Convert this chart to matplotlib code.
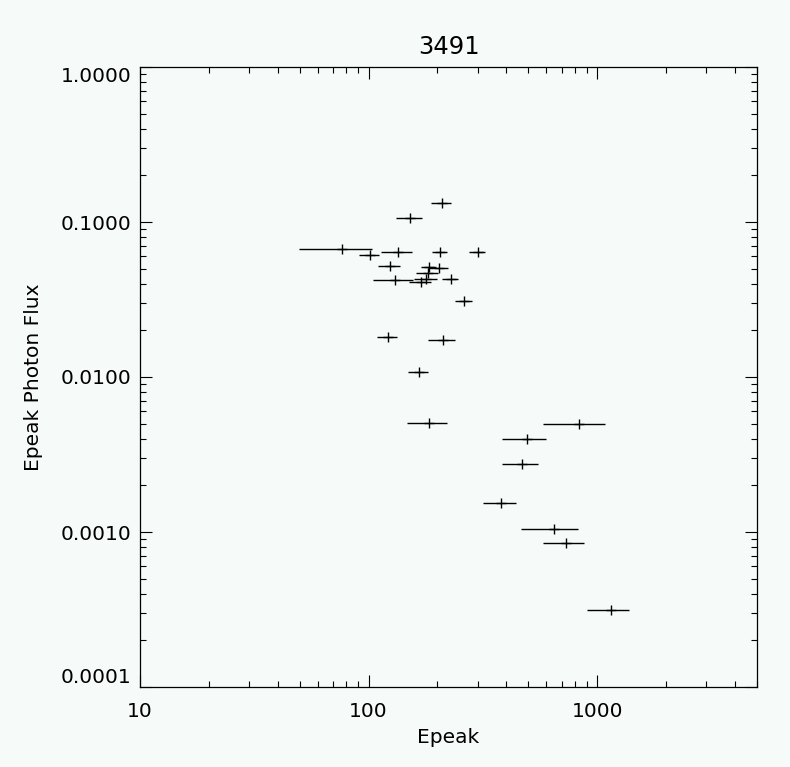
import matplotlib
matplotlib.use("Agg")
import matplotlib.pyplot as plt
import numpy as np
from matplotlib.ticker import FixedLocator, LogLocator, NullFormatter, FuncFormatter

# Epeak values with symmetric errors, and photon flux at Epeak
epeak = [208.5, 151.1, 76.5, 101.0, 133.9, 204.4, 299.7, 123.6, 183.0,
         202.4, 181.9, 130.4, 169.5, 178.8, 228.3, 260.3, 121.1, 210.7,
         165.4, 183.7, 828.3, 490.8, 466.7, 377.7, 644.1, 726.6, 1143.6]
epeak_err = [20.6, 19.5, 27.0, 10.2, 21.0, 15.2, 23.6, 14.0, 14.0,
             21.0, 20.0, 26.0, 18.7, 20.6, 18.0, 21.7, 12.0, 29.0,
             17.3, 36.0, 250.0, 109.0, 83.0, 62.0, 179.0, 150.0, 238.0]
flux = [0.1320, 0.1056, 0.0667, 0.0610, 0.0640, 0.0640, 0.0640, 0.0520, 0.0515,
        0.0503, 0.0467, 0.0422, 0.0410, 0.0426, 0.0427, 0.0308, 0.0181, 0.0173,
        0.01072, 0.00503, 0.00495, 0.00396, 0.00275, 0.00153, 0.00104, 0.000846,
        0.000312]

title = "3491"
x_major = [10, 100, 1000]
y_major = [1e-4, 1e-3, 1e-2, 1e-1, 1.0]

bg = "#f6faf8"
plt.rcParams.update({"font.family": "DejaVu Sans", "font.size": 14.5})

fig = plt.figure(figsize=(7.9, 7.67), dpi=100, facecolor=bg)
ax = fig.add_axes([140 / 790, 80 / 767, 617 / 790, 620 / 767], facecolor=bg)

ax.errorbar(epeak, flux, xerr=epeak_err, fmt="+", color="black", ms=7.2,
            mew=1.0, elinewidth=1.0, capsize=0)

ax.set_xscale("log")
ax.set_yscale("log")
ax.set_xlim(10, 5000)
ax.set_ylim(1e-4, 1.0)

ax.xaxis.set_major_locator(FixedLocator(x_major))
ax.xaxis.set_major_formatter(FuncFormatter(lambda v, p: f"{v:.0f}"))
ax.xaxis.set_minor_locator(LogLocator(base=10, subs=np.arange(2, 10)))
ax.xaxis.set_minor_formatter(NullFormatter())
ax.yaxis.set_major_locator(FixedLocator(y_major))
ax.yaxis.set_major_formatter(FuncFormatter(lambda v, p: f"{v:.4f}"))
ax.yaxis.set_minor_locator(LogLocator(base=10, subs=np.arange(2, 10)))
ax.yaxis.set_minor_formatter(NullFormatter())

ax.tick_params(which="both", direction="in", top=True, right=True,
               width=0.8, colors="black")
ax.tick_params(which="major", length=8.6)
ax.tick_params(which="minor", length=4.3)
ax.tick_params(axis="x", pad=11)
ax.tick_params(axis="y", pad=6)
for s in ax.spines.values():
    s.set_linewidth(0.9)

ax.set_title(title, fontsize=17.5, pad=9)
ax.set_xlabel("Epeak", labelpad=5)
ax.set_ylabel("Epeak Photon Flux", labelpad=13)

fig.canvas.draw()
labels = ax.get_yticklabels()
labels[0].set_va("bottom")
labels[-1].set_va("top")

fig.savefig("out.png", dpi=100, facecolor=bg)
